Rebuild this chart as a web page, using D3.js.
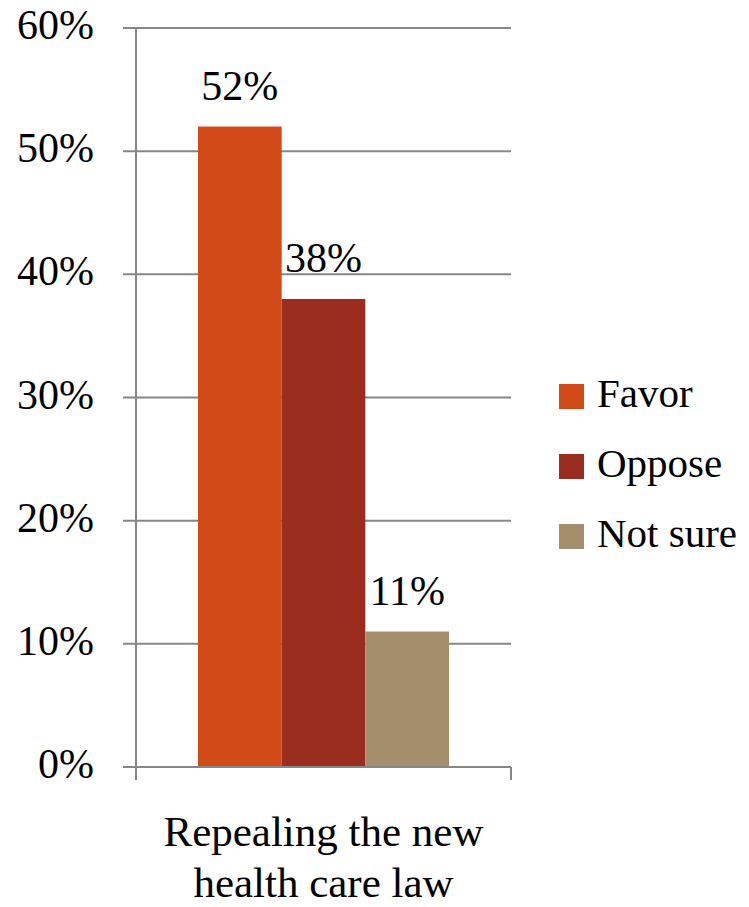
<!DOCTYPE html>
<html><head><meta charset="utf-8">
<script src="https://cdn.jsdelivr.net/npm/d3@7"></script>
<style>html,body{margin:0;padding:0;background:#fff;}svg{display:block;}</style>
</head><body>
<script>
const categories = ["Repealing the new health care law"];
const categoryLines = ["Repealing the new", "health care law"];
const seriesNames = ["Favor", "Oppose", "Not sure"];
const seriesValues = [52, 38, 11];
const seriesColors = ["#D24A18", "#9A2C20", "#A58E6B"];
const yTicks = [0, 10, 20, 30, 40, 50, 60];

const W = 749, H = 907;
const font = "'Liberation Serif', 'Times New Roman', serif";
const svg = d3.select("body").append("svg").attr("width", W).attr("height", H);

const x0 = 136, x1 = 511, yTop = 28, yBot = 767;
const y = d3.scaleLinear().domain([0, 60]).range([yBot, yTop]);
const xc = d3.scaleBand().domain(categories).range([x0, x1]).paddingInner(0).paddingOuter(0.247);
const xs = d3.scaleBand().domain(seriesNames).range([0, xc.bandwidth()]);

const grid = "#878787";
svg.append("g").selectAll("line").data(yTicks).join("line")
  .attr("x1", x0 - 13).attr("x2", x1).attr("y1", d => y(d)).attr("y2", d => y(d))
  .attr("stroke", grid).attr("stroke-width", 2);
svg.append("line").attr("x1", x0).attr("x2", x0).attr("y1", yTop).attr("y2", yBot + 13)
  .attr("stroke", grid).attr("stroke-width", 2);
svg.append("line").attr("x1", x1).attr("x2", x1).attr("y1", yBot).attr("y2", yBot + 13)
  .attr("stroke", grid).attr("stroke-width", 2);

svg.append("g").selectAll("text").data(yTicks).join("text")
  .attr("x", 94).attr("y", d => y(d) + 11)
  .attr("text-anchor", "end").attr("font-family", font).attr("font-size", 42).attr("fill", "#000")
  .text(d => d + "%");

const data = seriesNames.map((s, i) => ({s, v: seriesValues[i], c: seriesColors[i]}));
const cat = categories[0];
svg.append("g").selectAll("rect").data(data).join("rect")
  .attr("x", d => xc(cat) + xs(d.s)).attr("width", xs.bandwidth())
  .attr("y", d => y(d.v)).attr("height", d => y(0) - y(d.v))
  .attr("fill", d => d.c);
svg.append("line").attr("x1", x0 - 13).attr("x2", x1).attr("y1", yBot).attr("y2", yBot)
  .attr("stroke", grid).attr("stroke-width", 2);

svg.append("g").selectAll("text").data(data).join("text")
  .attr("x", d => xc(cat) + xs(d.s) + xs.bandwidth() / 2)
  .attr("y", d => y(d.v) - 27)
  .attr("text-anchor", "middle").attr("font-family", font).attr("font-size", 42).attr("fill", "#000")
  .text(d => d.v + "%");

svg.append("g").selectAll("text").data(categoryLines).join("text")
  .attr("x", xc(cat) + xc.bandwidth() / 2).attr("y", (d, i) => 846 + i * 51)
  .attr("text-anchor", "middle").attr("font-family", font).attr("font-size", 43).attr("fill", "#000")
  .text(d => d);

const lg = svg.append("g").selectAll("g").data(data).join("g")
  .attr("transform", (d, i) => `translate(559, ${384 + i * 70})`);
lg.append("rect").attr("width", 25).attr("height", 25).attr("fill", d => d.c);
lg.append("text").attr("x", 38).attr("y", 23).attr("font-family", font).attr("font-size", 41).attr("fill", "#000")
  .text(d => d.s);
</script>
</body></html>
